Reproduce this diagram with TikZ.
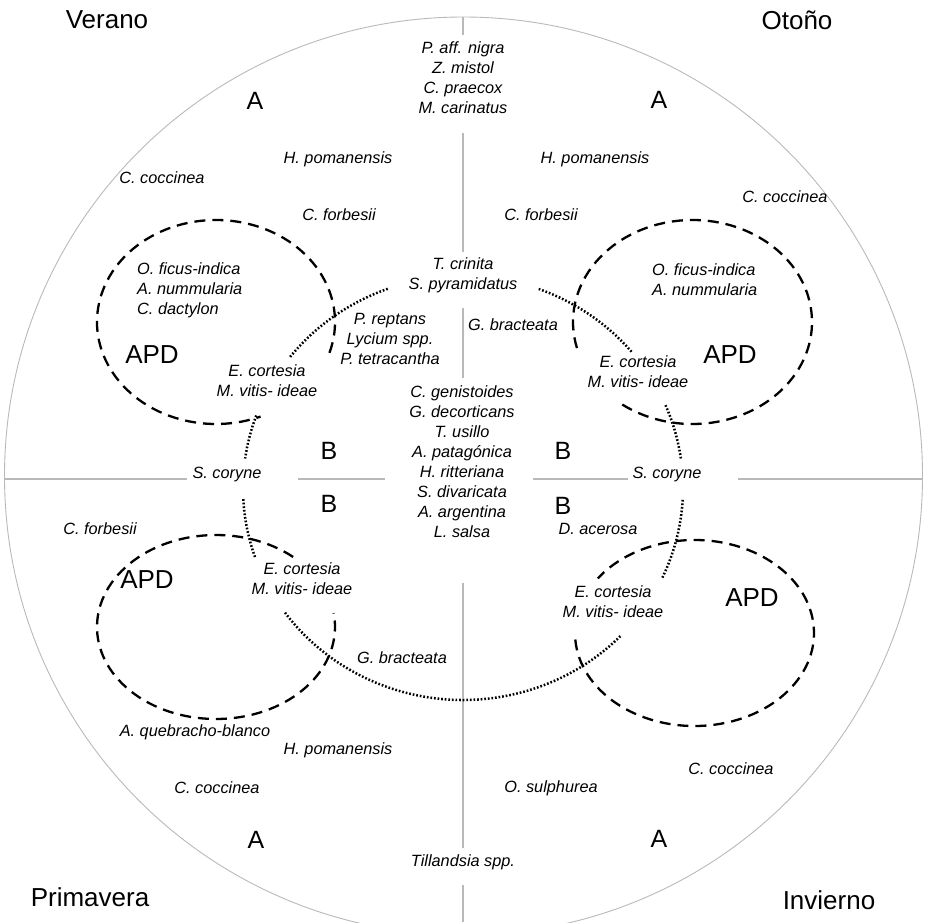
\documentclass[tikz,border=0pt]{standalone}
\usepackage{fontspec}
\setmainfont{Liberation Sans}
\usetikzlibrary{positioning}

\begin{document}
\begin{tikzpicture}[x=1pt, y=-1pt,
    sp/.style={inner sep=0pt, align=center, font=\fontsize{16.3}{20}\selectfont\itshape},
    zonelabel/.style={inner sep=0pt, font=\fontsize{25}{30}\selectfont},
    season/.style={inner sep=0pt, font=\fontsize{26}{30}\selectfont},
    axis/.style={gray!55, line width=1.2pt},
    zone/.style={black, line width=2.3pt, dash pattern=on 11pt off 7pt},
    link/.style={black, line width=2.5pt, dash pattern=on 1.7pt off 1.9pt}]

\useasboundingbox (0,0) rectangle (927,922);
\clip (0,0) rectangle (927,922);

% outer circle and axes
\coordinate (mid) at (463.5,476);
\draw[gray!55, line width=0.9pt] (mid) circle[radius=459pt];
\foreach \ya/\yb in {17/35, 133/252, 308/378, 583/848, 885/922}
    \draw[axis] (463,\ya) -- (463,\yb);
\foreach \xa/\xb in {5/187, 298/385, 533/628, 738/922}
    \draw[axis] (\xa,479) -- (\xb,479);

% dashed zones (APD)
\coordinate (eTL) at (216,322);
\coordinate (eTR) at (692.5,322);
\coordinate (eBL) at (216,627);
\coordinate (eBR) at (694.5,633);
\draw[zone] (eTL) ++(-17.6:119pt and 102pt) arc[start angle=-17.6, end angle=292, x radius=119pt, y radius=102pt];
\draw[zone] (eTR) ++(234:119.5pt and 102pt) arc[start angle=234, end angle=555, x radius=119.5pt, y radius=102pt];
\draw[zone] (eBL) ++(49.6:119pt and 92pt) arc[start angle=49.6, end angle=368.7, x radius=119pt, y radius=92pt];
\draw[zone] (eBR) ++(184:119.5pt and 93pt) arc[start angle=184, end angle=504, x radius=119.5pt, y radius=93pt];

% dotted ring
\coordinate (ring) at (463,488);
\foreach \a/\b in {110/142, 160/172, 183/199, 216/316, 335/357, 8/23, 40/70}
    \draw[link] (ring) ++(\a:220pt and 212pt) arc[start angle=\a, end angle=\b, x radius=220pt, y radius=212pt];

% seasons
\node[season] (verano) at (107,20) {Verano};
\node[season] (otono) at (797,20) {Otoño};
\node[season] (primavera) at (90,897) {Primavera};
\node[season] (invierno) at (829,900) {Invierno};

% zones
\node[zonelabel] (aTL) at (255,101) {A};
\node[zonelabel] (aTR) at (659,100) {A};
\node[zonelabel] (aBL) at (256,840) {A};
\node[zonelabel] (aBR) at (659,839) {A};
\node[zonelabel] (bTL) at (329,451) {B};
\node[zonelabel] (bTR) at (563,451) {B};
\node[zonelabel] (bBL) at (329,504) {B};
\node[zonelabel] (bBR) at (563,506) {B};
\node[season] (apdTL) at (152,355) {APD};
\node[season] (apdTR) at (730,355) {APD};
\node[season] (apdBL) at (147,580) {APD};
\node[season] (apdBR) at (752,598) {APD};

% centre
\node[sp] (nigra) at (463,78) {P. aff. nigra\\Z. mistol\\C. praecox\\M. carinatus};
\node[sp] (crinita) at (463,275) {T. crinita\\S. pyramidatus};
\node[sp] (reptans) at (390,339) {P. reptans\\Lycium spp.\\P. tetracantha};
\node[sp] (bractTR) at (513,325) {G. bracteata};
\node[sp] (genist) at (462,462) {C. genistoides\\G. decorticans\\T. usillo\\A. patagónica\\H. ritteriana\\S. divaricata\\A. argentina\\L. salsa};
\node[sp] (tilland) at (463,862) {Tillandsia spp.};

% verano
\node[sp] (pomTL) at (338,159) {H. pomanensis};
\node[sp] (cocTL) at (162,178) {C. coccinea};
\node[sp] (forTL) at (339,215) {C. forbesii};
\node[sp, align=left, anchor=west] (opTL) at (137,290) {O. ficus-indica\\A. nummularia\\C. dactylon};
\node[sp] (corTL) at (267,381) {E. cortesia\\M. vitis- ideae};

% otono
\node[sp] (pomTR) at (595,159) {H. pomanensis};
\node[sp] (cocTR) at (785,197) {C. coccinea};
\node[sp] (forTR) at (541,215) {C. forbesii};
\node[sp, align=left, anchor=west] (opTR) at (652,280) {O. ficus-indica\\A. nummularia};
\node[sp] (corTR) at (638,372) {E. cortesia\\M. vitis- ideae};

% primavera
\node[sp] (coryL) at (227,474) {S. coryne};
\node[sp] (forBL) at (100,529) {C. forbesii};
\node[sp] (corBL) at (302,579) {E. cortesia\\M. vitis- ideae};
\node[sp] (bractBL) at (402,658) {G. bracteata};
\node[sp] (queb) at (195,732) {A. quebracho-blanco};
\node[sp] (pomBL) at (338,750) {H. pomanensis};
\node[sp] (cocBL) at (217,788) {C. coccinea};

% invierno
\node[sp] (coryR) at (667,474) {S. coryne};
\node[sp] (acer) at (598,529) {D. acerosa};
\node[sp] (corBR) at (613,602) {E. cortesia\\M. vitis- ideae};
\node[sp] (cocBR) at (731,769) {C. coccinea};
\node[sp] (sulph) at (551,788) {O. sulphurea};

\end{tikzpicture}
\end{document}
